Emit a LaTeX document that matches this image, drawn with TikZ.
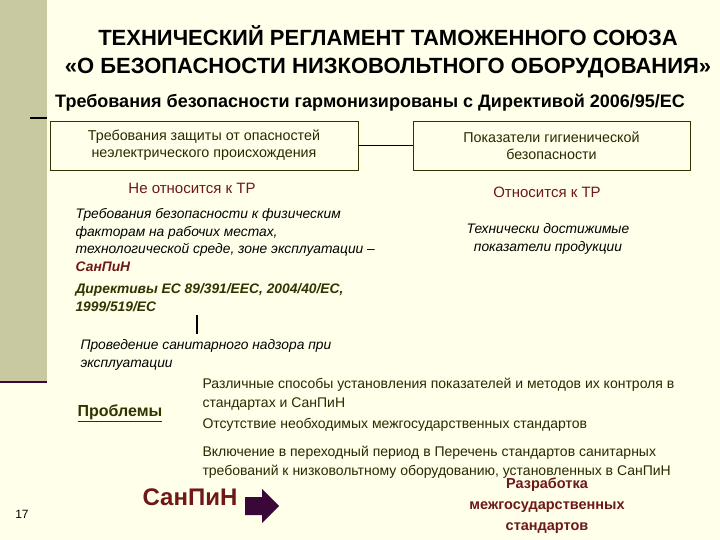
\documentclass[tikz,border=0pt]{standalone}
\usepackage{fontspec}
\setmainfont{Liberation Sans}
\definecolor{bg}{HTML}{FFFFEA}
\definecolor{bar}{HTML}{C9C9A1}
\definecolor{dred}{HTML}{6E1818}
\definecolor{dol}{HTML}{333300}
\definecolor{dpur}{HTML}{3A0838}
\begin{document}
\begin{tikzpicture}[x=1pt,y=-1pt,
  box/.style={draw=dol,line width=0.8pt,minimum width=#1,minimum height=49,align=center,font=\fontsize{14.3}{17}\selectfont,text=dol!80!black},
  body/.style={anchor=north west,align=left,font=\fontsize{14}{18.5}\selectfont,text=dol!80!black},
  ital/.style={anchor=north west,align=left,font=\itshape\fontsize{13.8}{17.5}\selectfont,text=black}]
\fill[bg] (0,0) rectangle (720,540);
\useasboundingbox (0,0) rectangle (720,540);
\fill[bar] (0,0) rectangle (47,382);
\draw[dpur,line width=2.5pt] (0,382) -- (47,382);
\draw[black,line width=1.2pt] (30,118) -- (47,118);
\node[font=\bfseries\fontsize{22}{28}\selectfont,align=center] (t) at (388,52) {ТЕХНИЧЕСКИЙ РЕГЛАМЕНТ ТАМОЖЕННОГО СОЮЗА\\«О БЕЗОПАСНОСТИ НИЗКОВОЛЬТНОГО ОБОРУДОВАНИЯ»};
\node[font=\bfseries\fontsize{18}{20}\selectfont,anchor=west,inner sep=0pt] (s) at (55,103) {Требования безопасности гармонизированы с Директивой 2006/95/ЕС};
\node[box=308] (b1) at (204,145.5) {Требования защиты от опасностей\\неэлектрического происхождения};
\node[box=277] (b2) at (551.5,145.5) {Показатели гигиенической\\безопасности};
\draw[black,line width=1pt] (b1.east) -- (b2.west);
\node[text=dred,font=\fontsize{15}{17}\selectfont] (n1) at (192,188) {Не относится к ТР};
\node[text=dred,font=\fontsize{15}{17}\selectfont] (n2) at (547,192) {Относится к ТР};
\node[ital] (i1) at (72,205) {Требования безопасности к физическим\\факторам на рабочих местах,\\технологической среде, зоне эксплуатации –\\\textcolor{dred}{\bfseries СанПиН}};
\node[font=\itshape\fontsize{13.8}{17.5}\selectfont,align=center] (i2) at (548,239) {Технически достижимые\\показатели продукции};
\node[anchor=north west,align=left,font=\bfseries\itshape\fontsize{13.8}{18}\selectfont,text=dol] (d) at (72,280) {Директивы ЕС 89/391/EEC, 2004/40/EC,\\1999/519/EC};
\coordinate (v1) at (197,315);
\coordinate (v2) at (197,334);
\draw[black,line width=1.5pt] (v1) -- (v2);
\node[ital] (p) at (77,336) {Проведение санитарного надзора при\\эксплуатации};
\node[font=\bfseries\fontsize{16}{18}\selectfont,text=dol] (pr) at (120,413) {\underline{Проблемы}};
\node[body] (r1) at (199,375) {Различные способы установления показателей и методов их контроля в\\стандартах и СанПиН};
\node[body] (r2) at (199,415) {Отсутствие необходимых межгосударственных стандартов};
\node[body] (r3) at (199,443) {Включение в переходный период в Перечень стандартов санитарных\\требований к низковольтному оборудованию, установленных в СанПиН};
\node[font=\fontsize{12}{14}\selectfont] (num) at (22,514) {17};
\node[text=dred,font=\bfseries\fontsize{24}{26}\selectfont] (sp) at (190,497) {СанПиН};
\fill[dpur] (245,497) -- (262,497) -- (262,489) -- (279,506) -- (262,523) -- (262,515) -- (245,515) -- cycle;
\node[text=dred,font=\bfseries\fontsize{14.5}{21}\selectfont,align=center] (rz) at (547,506) {Разработка\\межгосударственных\\стандартов};
\end{tikzpicture}
\end{document}
